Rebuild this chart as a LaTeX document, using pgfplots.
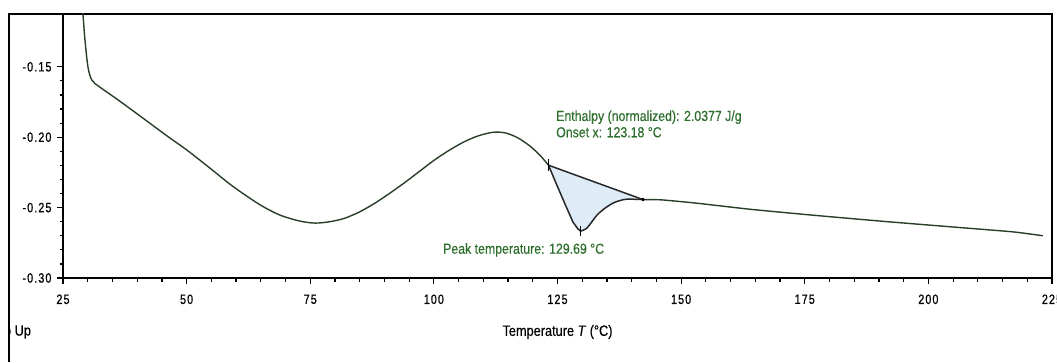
\documentclass[border=0pt]{standalone}
\usepackage{fontspec}
\setmainfont{Liberation Sans}[FakeStretch=0.85]
\newfontfamily\tickfont{Liberation Sans}[FakeStretch=0.8, LetterSpace=8, FakeBold=0.6]
\newfontfamily\annfont{Liberation Sans}[FakeStretch=0.85, FakeBold=0.4]
\usepackage{pgfplots}
\pgfplotsset{compat=1.18}
\definecolor{curvec}{RGB}{40,62,40}
\definecolor{txtgreen}{RGB}{45,110,45}
\definecolor{fillblue}{RGB}{222,236,248}
\begin{document}
\begin{tikzpicture}[x=1pt,y=1pt]
\useasboundingbox (0,0) rectangle (1057,362);
\draw[line width=1.8pt,black] (9,0) -- (9,348) -- (63,348);
\begin{scope}
\clip (10,0) rectangle (60,362);
\node[anchor=west,font=\annfont\fontsize{15}{15}\selectfont, inner sep=0pt] at (-11,30) {Exo Up};
\end{scope}
\begin{axis}[
  at={(63pt,84pt)}, anchor=south west,
  scale only axis, width=989pt, height=264pt,
  xmin=25, xmax=225, ymin=-0.30, ymax=-0.1125,
  xtick={25,50,...,225},
  ytick={-0.30,-0.25,-0.20,-0.15},
  minor x tick num=4, minor y tick num=4,
  tick align=outside, xtick pos=bottom, ytick pos=left,
  major tick length=6pt, minor tick length=3.5pt,
  tick style={black, line width=1.2pt},
  axis line style={black, line width=1.8pt},
  /pgf/number format/assume math mode=true,
  ticklabel style={font=\tickfont\fontsize{13.5}{13.5}\selectfont},
  yticklabel style={/pgf/number format/fixed, /pgf/number format/precision=2, /pgf/number format/fixed zerofill, xshift=-2pt},
  xticklabel style={/pgf/number format/fixed, yshift=-7pt},
  xlabel={Temperature \textit{T} (°C)},
  xlabel style={font=\annfont\fontsize{15}{15}\selectfont, at={(axis description cs:0.5,0)}, anchor=center, yshift=-54pt},
]
% integration area
\addplot[fill=fillblue, draw=none] coordinates {
(123.18,-0.2199) (124.70,-0.2326) (126.52,-0.2475) (128.13,-0.2603) (129.14,-0.2652) (129.69,-0.2667)
(130.96,-0.2645) (132.99,-0.2553) (134.61,-0.2504) (136.22,-0.2468) (137.64,-0.2450) (139.05,-0.2440)
(142.29,-0.2443) (123.18,-0.2199)};
% main DSC curve
\addplot[curvec, line width=1.4pt, smooth, tension=0.5] coordinates {
(28.84,-0.1028) (29.04,-0.1128) (29.45,-0.1312) (30.06,-0.1504) (30.86,-0.1596) (32.48,-0.1645)
(36.53,-0.1745) (41.18,-0.1865) (46.00,-0.1990) (50.08,-0.2092) (54.73,-0.2220) (59.38,-0.2350)
(64.84,-0.2480) (68.88,-0.2553) (72.93,-0.2596) (76.00,-0.2610) (79.00,-0.2600) (82.00,-0.2575)
(85.00,-0.2530) (88.00,-0.2470) (91.00,-0.2400) (94.00,-0.2325) (97.00,-0.2245) (100.00,-0.2165)
(103.00,-0.2095) (106.00,-0.2035) (109.00,-0.1990) (112.00,-0.1965) (114.50,-0.1970) (117.00,-0.2005)
(119.50,-0.2065) (121.50,-0.2130) (123.18,-0.2199)};
\addplot[black!85, line width=1.5pt] coordinates {
(123.18,-0.2199) (124.70,-0.2326) (126.52,-0.2475) (128.13,-0.2603) (129.14,-0.2652) (129.69,-0.2667)};
\addplot[black!85, line width=1.5pt, smooth, tension=0.4] coordinates {
(129.69,-0.2667) (130.96,-0.2645) (132.99,-0.2553) (134.61,-0.2504) (136.22,-0.2468) (137.64,-0.2450)
(139.05,-0.2440) (142.29,-0.2443)};
\addplot[curvec, line width=1.4pt, smooth, tension=0.3] coordinates {
(142.29,-0.2443) (146.00,-0.2445) (153.00,-0.2468) (164.00,-0.2512) (177.00,-0.2555) (191.00,-0.2598)
(204.00,-0.2635) (217.00,-0.2672) (223.18,-0.2700)};
% baseline
\addplot[black!85, line width=1.5pt] coordinates {(123.18,-0.2199) (142.29,-0.2443)};
% markers
\addplot[only marks, mark=|, mark size=6pt, mark options={line width=1.5pt, black}] coordinates {(123.18,-0.2199)};
\addplot[only marks, mark=|, mark size=5pt, mark options={line width=1.2pt, black}] coordinates {(129.69,-0.2667)};
\addplot[only marks, mark=*, mark size=1.6pt, mark options={black}] coordinates {(142.29,-0.2443)};
% annotations
\node[anchor=west, txtgreen, font=\annfont\fontsize{14.5}{14.5}\selectfont, inner sep=0pt] at (axis cs:124.7,-0.1858) {Enthalpy (normalized): 2.0377 J/g};
\node[anchor=west, txtgreen, font=\annfont\fontsize{14.5}{14.5}\selectfont, inner sep=0pt] at (axis cs:124.7,-0.1965) {Onset x: 123.18 °C};
\node[anchor=west, txtgreen, font=\annfont\fontsize{14.5}{14.5}\selectfont, inner sep=0pt] at (axis cs:101.84,-0.2801) {Peak temperature: 129.69 °C};
\end{axis}
\end{tikzpicture}
\end{document}
